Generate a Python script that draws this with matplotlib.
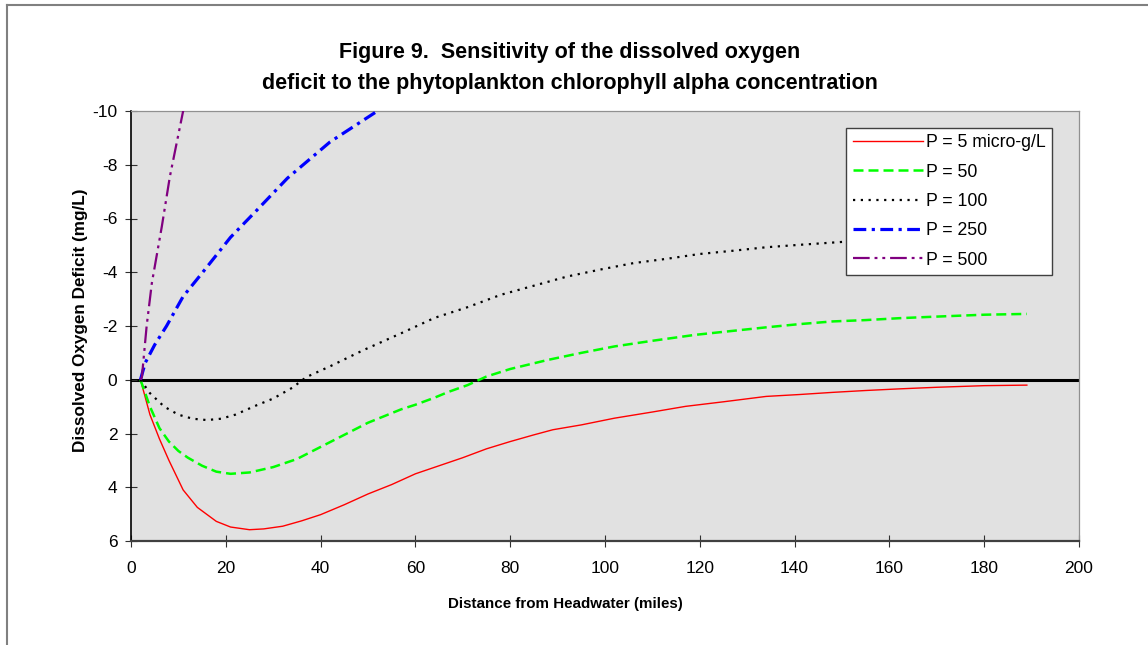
import matplotlib
matplotlib.use("Agg")
import matplotlib.pyplot as plt
from matplotlib.lines import Line2D

plt.rcParams['font.family'] = ['Liberation Sans', 'DejaVu Sans']
plt.rcParams['axes.unicode_minus'] = False

# Distance from headwater (miles) and oxygen deficit (mg/L)
x_p5 = [2, 4, 6, 8, 11, 14, 18, 21, 25, 28, 32, 36, 40, 45, 50, 55, 60, 65, 70,
        75, 80, 85, 89, 95, 102, 110, 117, 125, 134, 141, 148, 155, 162, 170, 180, 189]
y_p5 = [0, 1.3, 2.2, 3.0, 4.1, 4.75, 5.27, 5.48, 5.58, 5.55, 5.45, 5.25, 5.02, 4.65,
        4.25, 3.9, 3.5, 3.2, 2.9, 2.57, 2.3, 2.05, 1.86, 1.68, 1.43, 1.2, 0.99, 0.82,
        0.62, 0.55, 0.47, 0.4, 0.34, 0.28, 0.22, 0.2]

x_p50 = [2, 4, 6, 8, 10, 12, 15, 18, 21, 25, 30, 35, 40, 45, 50, 57, 60, 64, 67,
         71, 75, 80, 88, 95, 102, 110, 119, 127, 134, 141, 148, 155, 162, 170, 180, 189]
y_p50 = [0, 1.0, 1.8, 2.3, 2.65, 2.9, 3.2, 3.42, 3.5, 3.45, 3.25, 2.95, 2.5, 2.05,
         1.6, 1.1, 0.93, 0.67, 0.45, 0.2, -0.12, -0.4, -0.74, -1.0, -1.24, -1.45,
         -1.67, -1.82, -1.95, -2.07, -2.17, -2.22, -2.29, -2.35, -2.42, -2.45]

x_p100 = [2, 4, 7, 10, 13, 16, 19, 22, 26.5, 30, 34, 37, 42, 49, 57, 64, 71, 78,
          85, 92, 99, 106, 113, 120, 127, 134, 141, 151, 160, 170, 180, 189]
y_p100 = [0, 0.5, 1.0, 1.3, 1.45, 1.5, 1.45, 1.3, 0.95, 0.7, 0.3, -0.1, -0.5, -1.1,
          -1.73, -2.3, -2.7, -3.16, -3.5, -3.84, -4.1, -4.34, -4.5, -4.68, -4.8,
          -4.93, -5.02, -5.14, -5.25, -5.35, -5.42, -5.5]

x_p250 = [2, 3, 5, 7.5, 11, 15, 21, 26.5, 33, 42, 52, 60]
y_p250 = [0, -0.63, -1.3, -2.0, -3.1, -3.97, -5.3, -6.3, -7.5, -8.85, -10.0, -10.9]

x_p500 = [2, 2.3, 3.3, 4.4, 6.5, 8.2, 11, 13]
y_p500 = [0, -0.1, -2.0, -3.6, -5.7, -7.56, -10.0, -11.5]

labels = ['P = 5 micro-g/L', 'P = 50', 'P = 100', 'P = 250', 'P = 500']

W, H = 1148, 645
fig = plt.figure(figsize=(W / 100, H / 100), dpi=100)
ax = fig.add_axes([131 / W, 1 - 541 / H, 948 / W, 430 / H])
ax.set_facecolor('#E1E1E1')

ax.axhline(0, color='black', linewidth=2.2, zorder=1)

ax.plot(x_p5, y_p5, color='#FF0000', linewidth=1.0, label=labels[0], zorder=3)
ax.plot(x_p50, y_p50, color='#00FF00', linewidth=1.8, dashes=(4, 2),
        label=labels[1], zorder=3)
ax.plot(x_p100, y_p100, color='black', linewidth=1.6, dashes=(1, 2.5),
        label=labels[2], zorder=3)
ax.plot(x_p250, y_p250, color='#0000FF', linewidth=2.3, dashes=(4, 1.7, 1, 1.7),
        label=labels[3], zorder=3)
ax.plot(x_p500, y_p500, color='#800080', linewidth=1.6,
        dashes=(7.5, 2.2, 1.3, 2.2, 1.3, 2.2), label=labels[4], zorder=3)

ax.set_xlim(0, 200)
ax.set_ylim(6, -10)
ax.set_xticks(range(0, 201, 20))
ax.set_yticks(range(-10, 7, 2))

ax.spines['left'].set_color('black')
ax.spines['left'].set_linewidth(1.2)
ax.spines['bottom'].set_color('#404040')
ax.spines['bottom'].set_linewidth(1.6)
ax.spines['top'].set_color('#909090')
ax.spines['top'].set_linewidth(0.9)
ax.spines['right'].set_color('#909090')
ax.spines['right'].set_linewidth(0.9)

ax.tick_params(axis='both', direction='inout', length=8.6, width=0.8,
               color='#303030', labelsize=12.5, labelcolor='black')
ax.tick_params(axis='x', pad=10)
ax.tick_params(axis='y', pad=5.5)

leg = ax.legend(loc='upper right', bbox_to_anchor=((1052 - 131) / 948, (541 - 128) / 430),
                borderaxespad=0, fontsize=12.7, frameon=True, fancybox=False,
                edgecolor='#404040', facecolor='white', framealpha=1,
                handlelength=4.0, handletextpad=0.17, labelspacing=0.7,
                borderpad=0.35)
leg.get_frame().set_linewidth(1.0)

fig.text(570 / W, 1 - 42 / H,
         'Figure 9.  Sensitivity of the dissolved oxygen\n'
         'deficit to the phytoplankton chlorophyll alpha concentration',
         ha='center', va='top', fontsize=15.5, fontweight='bold', linespacing=1.6)
fig.text(565 / W, 1 - 604 / H, 'Distance from Headwater (miles)',
         ha='center', va='center', fontsize=10.9, fontweight='bold')
fig.text(81 / W, 1 - 320 / H, 'Dissolved Oxygen Deficit (mg/L)',
         ha='center', va='center', rotation=90, fontsize=12.3, fontweight='bold')

# outer chart frame (only top and left edges visible)
fig.add_artist(Line2D([7 / W, 7 / W], [0, 1 - 5 / H], color='#808080', linewidth=1.5))
fig.add_artist(Line2D([7 / W, 1], [1 - 5 / H, 1 - 5 / H], color='#808080', linewidth=1.5))

fig.savefig('out.png', dpi=100)
